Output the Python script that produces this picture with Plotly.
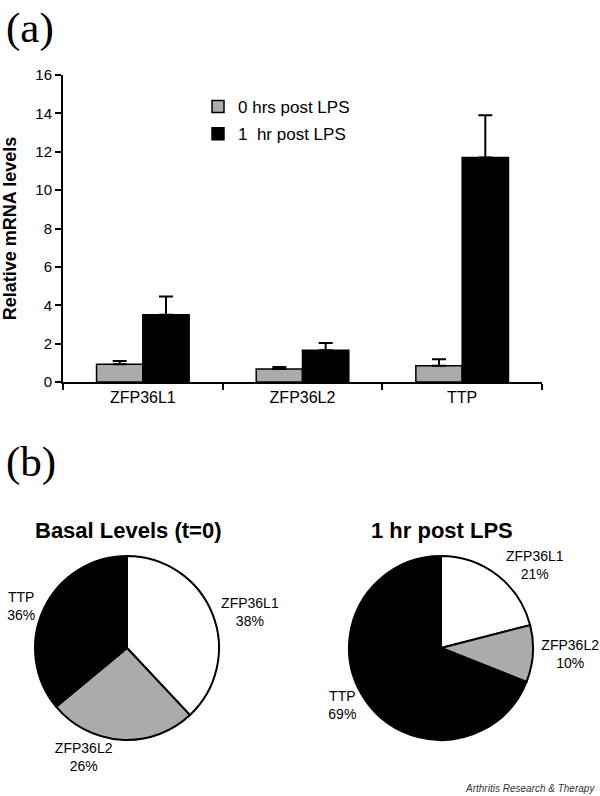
import plotly.graph_objects as go

W, H = 600, 796

categories = ["ZFP36L1", "ZFP36L2", "TTP"]
basal_vals = [0.92, 0.68, 0.85]
basal_err = [0.18, 0.10, 0.33]
lps_vals = [3.5, 1.65, 11.7]
lps_err = [0.95, 0.38, 2.2]
series_names = ["0 hrs post LPS", "1  hr post LPS"]

pie_labels = ["ZFP36L1", "ZFP36L2", "TTP"]
pie_basal = [38, 26, 36]
pie_lps = [21, 10, 69]
pie_titles = ["Basal Levels (t=0)", "1 hr post LPS"]

y_ticks = [0, 2, 4, 6, 8, 10, 12, 14, 16]

GRAY = "#ababab"
FONT = "Liberation Sans, Arial, sans-serif"


def px_x(x):
    return x / W


def px_y(y):
    return 1 - y / H


fig = go.Figure()

fig.add_trace(go.Bar(
    x=categories, y=basal_vals, name=series_names[0], legendgroup="a",
    marker=dict(color=GRAY, line=dict(color="black", width=1.5)),
    error_y=dict(type="data", array=basal_err, arrayminus=[0] * 3, symmetric=False,
                 color="black", thickness=2, width=7),
))
fig.add_trace(go.Bar(
    x=categories, y=lps_vals, name=series_names[1], legendgroup="b",
    marker=dict(color="black", line=dict(color="black", width=1.5)),
    error_y=dict(type="data", array=lps_err, arrayminus=[0] * 3, symmetric=False,
                 color="black", thickness=2, width=7),
))

pie_colors = ["white", GRAY, "black"]
for i, (vals, cx) in enumerate([(pie_basal, 127), (pie_lps, 441)]):
    cy, r = 648, 92
    fig.add_trace(go.Pie(
        labels=pie_labels, values=vals, sort=False, direction="clockwise", rotation=0,
        marker=dict(colors=pie_colors, line=dict(color="black", width=2)),
        textposition="outside", texttemplate="%{label}<br>%{percent:.0%}",
        outsidetextfont=dict(family=FONT, size=14, color="black"),
        domain=dict(x=[px_x(cx - r), px_x(cx + r)], y=[px_y(cy + r), px_y(cy - r)]),
        showlegend=False, hoverinfo="label+percent", automargin=False,
    ))
    fig.add_annotation(text="<b>%s</b>" % pie_titles[i], x=px_x(cx + 1), y=px_y(530),
                       xref="paper", yref="paper", showarrow=False,
                       font=dict(family=FONT, size=22, color="black"),
                       xanchor="center", yanchor="middle")

fig.update_layout(
    width=W, height=H,
    margin=dict(l=0, r=0, t=0, b=0, autoexpand=False),
    paper_bgcolor="white", plot_bgcolor="white",
    font=dict(family=FONT, color="black"),
    barmode="group", bargap=0.42, bargroupgap=0,
    showlegend=True,
    legend=dict(x=px_x(198), y=px_y(89), xanchor="left", yanchor="top",
                font=dict(family=FONT, size=17, color="black"),
                traceorder="grouped", tracegroupgap=2, bgcolor="rgba(0,0,0,0)"),
    xaxis=dict(domain=[px_x(63), px_x(542)], showline=True, linecolor="black", linewidth=2,
               ticks="outside", tickson="boundaries", ticklen=6, tickwidth=2, tickcolor="black",
               tickfont=dict(family=FONT, size=16, color="black"), showgrid=False,
               anchor="y", automargin=False),
    yaxis=dict(domain=[px_y(382), px_y(75)], range=[0, 16], tickvals=y_ticks,
               showline=True, linecolor="black", linewidth=2, ticks="outside",
               ticklen=6, tickwidth=2, tickcolor="black", showgrid=False, zeroline=False,
               tickfont=dict(family=FONT, size=15, color="black"),
               title=dict(text="<b>Relative mRNA levels</b>", font=dict(family=FONT, size=18)),
               anchor="x", automargin=False),
)

fig.add_annotation(text="(a)", x=px_x(4), y=px_y(28), xref="paper", yref="paper",
                   showarrow=False, xanchor="left", yanchor="middle",
                   font=dict(family="Liberation Serif, Times New Roman, serif", size=43, color="black"))
fig.add_annotation(text="(b)", x=px_x(4), y=px_y(462), xref="paper", yref="paper",
                   showarrow=False, xanchor="left", yanchor="middle",
                   font=dict(family="Liberation Serif, Times New Roman, serif", size=43, color="black"))
fig.add_annotation(text="<i>Arthritis Research &amp; Therapy</i>", x=px_x(597), y=px_y(788),
                   xref="paper", yref="paper", showarrow=False, xanchor="right", yanchor="middle",
                   font=dict(family=FONT, size=10, color="#333333"))

fig.write_html("out.html", config={"displayModeBar": False},
               post_script="document.body.style.margin='0';document.body.style.overflow='hidden';")
